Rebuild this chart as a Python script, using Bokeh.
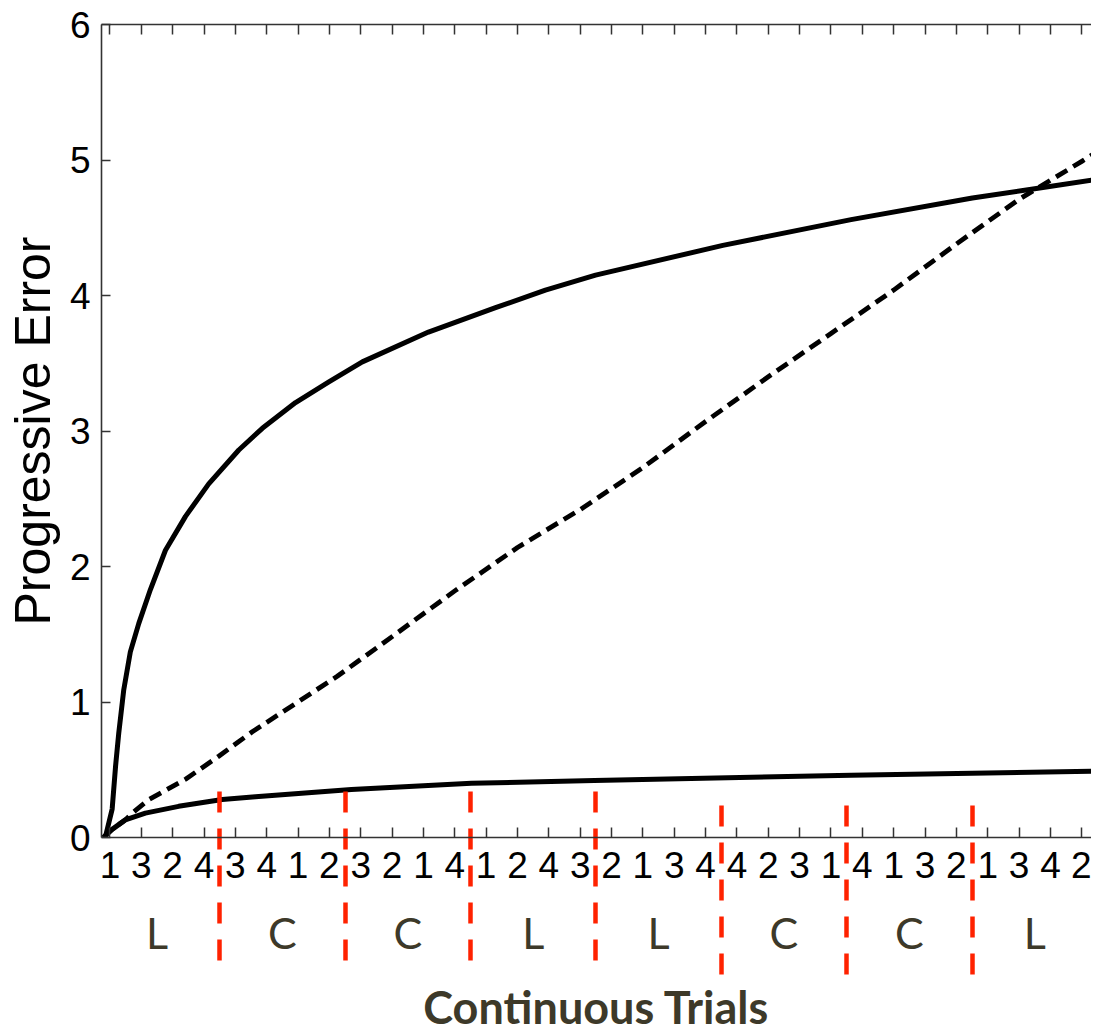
from bokeh.plotting import figure
from bokeh.models import Range1d, LinearAxis, FixedTicker
from bokeh.embed import file_html
from bokeh.resources import INLINE

# ---------------- data ----------------
trial_labels = ["1", "3", "2", "4", "3", "4", "1", "2", "3", "2", "1", "4", "1", "2", "4", "3",
                "2", "1", "3", "4", "4", "2", "3", "1", "4", "1", "3", "2", "1", "3", "4", "2"]
trial_positions = list(range(1, len(trial_labels) + 1))
block_labels = ["L", "C", "C", "L", "L", "C", "C", "L"]
block_size = 4

# upper solid curve
upper_x = [0.85, 1.07, 1.18, 1.28, 1.44, 1.65, 1.92, 2.29, 2.77, 3.41, 4.15, 5.11, 5.86, 6.92,
           7.97, 9.05, 11.16, 13.30, 14.89, 16.49, 20.55, 24.64, 28.51, 30.55, 32.56]
upper_y = [0.0, 0.21, 0.53, 0.77, 1.09, 1.37, 1.58, 1.83, 2.12, 2.37, 2.61, 2.86, 3.02, 3.21,
           3.36, 3.51, 3.73, 3.91, 4.04, 4.15, 4.37, 4.56, 4.72, 4.79, 4.86]

# dashed curve
dashed_x = [0.8, 1.07, 1.49, 1.71, 2.24, 3.41, 4.47, 5.54, 8.25, 9.63, 12.0, 14.0, 16.0, 18.0,
            20.0, 22.0, 24.0, 26.0, 28.0, 30.0, 32.0, 32.56]
dashed_y = [0.0, 0.06, 0.13, 0.18, 0.28, 0.43, 0.60, 0.78, 1.19, 1.42, 1.82, 2.14, 2.42, 2.73,
            3.07, 3.40, 3.72, 4.04, 4.38, 4.71, 4.99, 5.07]

# lower solid curve
lower_x = [0.78, 1.07, 1.49, 2.13, 3.19, 4.58, 5.64, 8.7, 12.53, 16.45, 24.64, 28.5, 32.56]
lower_y = [0.0, 0.06, 0.13, 0.18, 0.23, 0.28, 0.30, 0.355, 0.40, 0.42, 0.46, 0.475, 0.49]

# ---------------- derived positions ----------------
n_blocks = len(block_labels)
block_centers = [block_size * k + (block_size + 1) / 2 for k in range(n_blocks)]
boundaries = [block_size * k + block_size + 0.5 for k in range(n_blocks - 1)]

TEXT_DARK = "#3d3929"
RED = "#ff2200"
AXIS = "#333333"
SEP_WIDTH = 4.5
FRAME_TOP = 24  # px from the top of the canvas


def sep_dash(start_px, n_dashes=5, dash=21, gap=16):
    """dash pattern: hidden until start_px below the top frame line, then red dashes"""
    pattern = [0, start_px - FRAME_TOP]
    for i in range(n_dashes):
        pattern += [dash, gap if i < n_dashes - 1 else 400]
    return " ".join(str(v) for v in pattern)


p = figure(width=1091, height=1036, output_backend="svg", toolbar_location=None,
           x_range=Range1d(0.73, 32.31), y_range=Range1d(0, 6),
           min_border_left=101, min_border_right=0, min_border_top=FRAME_TOP, min_border_bottom=0)
p.outline_line_color = None
p.xgrid.visible = False
p.ygrid.visible = False
p.background_fill_color = "white"
p.border_fill_color = "white"

# curves
p.line(upper_x, upper_y, line_color="black", line_width=5, line_join="round")
p.line(lower_x, lower_y, line_color="black", line_width=5, line_join="round")
p.line(dashed_x, dashed_y, line_color="black", line_width=4.8, line_dash="13 7", line_join="round")

# y axis
ya = p.yaxis[0]
ya.ticker = FixedTicker(ticks=[0, 1, 2, 3, 4, 5, 6])
ya.minor_tick_line_color = None
ya.major_tick_in = 9
ya.major_tick_out = 0
ya.major_tick_line_color = AXIS
ya.major_tick_line_width = 1.5
ya.axis_line_color = AXIS
ya.axis_line_width = 1.6
ya.major_label_text_font = "Liberation Sans"
ya.major_label_text_font_size = "37px"
ya.major_label_text_color = "black"
ya.major_label_standoff = 11
ya.axis_label = "Progressive Error"
ya.axis_label_text_font = "Liberation Sans"
ya.axis_label_text_font_size = "50px"
ya.axis_label_text_font_style = "normal"
ya.axis_label_text_color = "black"
ya.axis_label_standoff = 6

# bottom trial axis
xa = p.xaxis[0]
xa.ticker = FixedTicker(ticks=trial_positions)
xa.major_label_overrides = {pos: lab for pos, lab in zip(trial_positions, trial_labels)}
xa.minor_tick_line_color = None
xa.major_tick_in = 10
xa.major_tick_out = 0
xa.major_tick_line_color = AXIS
xa.major_tick_line_width = 1.5
xa.axis_line_color = AXIS
xa.axis_line_width = 1.6
xa.major_label_text_font = "Liberation Sans"
xa.major_label_text_font_size = "37px"
xa.major_label_text_color = "black"
xa.major_label_standoff = 14

# block axis (L / C) with the axis title
ba = LinearAxis(ticker=FixedTicker(ticks=block_centers),
                major_label_overrides={c: lab for c, lab in zip(block_centers, block_labels)})
ba.axis_line_color = None
ba.major_tick_line_color = None
ba.minor_tick_line_color = None
ba.major_tick_out = 0
ba.major_tick_in = 0
ba.major_label_text_font = "Lato"
ba.major_label_text_font_size = "43px"
ba.major_label_text_color = TEXT_DARK
ba.major_label_standoff = 26
ba.axis_label = "Continuous Trials"
ba.axis_label_text_font = "Lato"
ba.axis_label_text_font_size = "45px"
ba.axis_label_text_font_style = "bold"
ba.axis_label_text_color = TEXT_DARK
ba.axis_label_standoff = 19
p.add_layout(ba, "below")

# top frame line with inward ticks (no labels)
ta = LinearAxis(ticker=FixedTicker(ticks=[], minor_ticks=trial_positions))
ta.major_tick_line_color = None
ta.major_tick_out = 0
ta.major_tick_in = 0
ta.major_label_standoff = 0
ta.minor_tick_in = 10
ta.minor_tick_out = 0
ta.minor_tick_line_color = AXIS
ta.minor_tick_line_width = 1.5
ta.axis_line_color = AXIS
ta.axis_line_width = 1.6
p.add_layout(ta, "above")

# red dashed block separators: long inward ticks of label-less top axes,
# visible only over the lower part of the chart
for ticks, y_start, y_end in [(boundaries[:4], 791, 962), (boundaries[4:], 805, 976)]:
    sa = LinearAxis(ticker=FixedTicker(ticks=[], minor_ticks=ticks))
    sa.axis_line_color = None
    sa.major_tick_line_color = None
    sa.major_tick_out = 0
    sa.major_tick_in = 0
    sa.major_label_standoff = 0
    sa.minor_tick_out = 0
    sa.minor_tick_in = y_end - FRAME_TOP
    sa.minor_tick_line_color = RED
    sa.minor_tick_line_width = SEP_WIDTH
    sa.minor_tick_line_dash = sep_dash(y_start)
    p.add_layout(sa, "above")

open("out.html", "w").write(file_html(p, INLINE))
